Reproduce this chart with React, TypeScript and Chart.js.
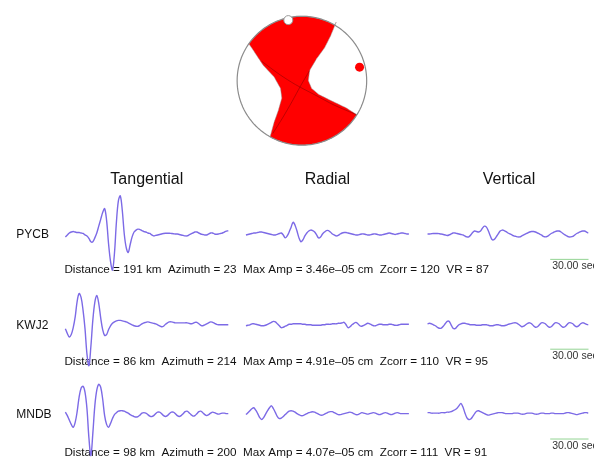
import React, { useEffect, useRef } from "react";
import { Chart, registerables } from "chart.js";
Chart.register(...registerables);

// ---------- data ----------
const COMPONENTS = ["Tangential", "Radial", "Vertical"];
const STATIONS = ["PYCB", "KWJ2", "MNDB"];
const DISTANCE_KM = [191, 86, 98];
const AZIMUTH = [23, 214, 200];
const MAX_AMP = ["3.46e–05", "4.91e–05", "4.07e–05"];
const ZCORR = [120, 110, 111];
const VR = [87, 95, 91];
const SCALE_LABEL = "30.00 sec";

// waveform amplitudes (display units, positive up), uniformly sampled
const PYCB_T = [-3,-1,1,2,2.5,2,1.5,1.5,1,0.5,-1,-2,-4.5,-8,-8,-4,1,8,15,22,26,14,-10,-28,-37,-20,12,34,39,24,0,-14,-19,-11,-3,2,4,5,4.5,3.5,2.5,2,1,0.5,-1,-2,-1.5,-1,-0.5,0,0.5,0.7,0.7,0.7,0.5,0.3,0,0,-0.5,-1,-1.5,-2,-2,-1,0,1,2,2,1,0,-0.5,-1,-1,0,1,1,0,-0.3,0,0.5,1,2,3,3.3];
const PYCB_R = [-1,-0.5,0,0.5,1,1,1.5,2,2,1.5,1,0.5,0,-0.5,-1,-1,-0.5,0.5,1,-1,-4,-2,2,7,12,9,3,-4,-8,-6,-2,1,3,4,3.5,2,-1,-4,-3,0,2,3.5,3.5,2,0,-1,-2,-1.5,0,1,1.5,1.5,1,0.5,0,-0.5,-1,-1,-0.5,0,0,-0.5,-1,-1,-0.5,0,0,-0.5,-1,-1,-0.5,0,0.5,1,0.5,0,-0.5,0,0.5,1,1,0.5,0,0];
const PYCB_Z = [0,0,0.3,0.5,0.5,0.5,0.3,0,-0.5,-1,-1.5,-1,0,1,1,0.5,0,-0.5,-1,-2,-3,-3,-1,1.5,3,2.5,2,3,6,8,7,3,-2,-6,-5.5,-3,0,3,4,3.5,2.5,1,0,-1,-2,-2.5,-3,-3,-2,-1,0,1,2,2.5,2.5,2,1,0,-1,-2.5,-3,-2.5,-1,0.5,1.5,2.5,3,3,2,0.5,-1,-2,-3,-3,-2.5,-1,0.5,1.5,2.5,3,3,2,1,0];
const KWJ2_T = [-4,-9,-12.5,-10,-3,8,24,32,28,15,-4,-30,-42,-22,5,23,30,22,7,-5,-11,-10,-5,-1,1.5,3,4,4.5,4.5,4,3.5,3,2,1,0,-1,-1.5,-1.5,-0.5,1,2,2.5,3,2.5,2,1.5,1,0,-1,-2,-1.5,0.5,2,3,3,2.5,2,2,2,2,2,2,2,1.5,1,1.5,2.5,2.5,1,-0.5,-1,0,1,2,3,2.5,1.5,0.5,0,0,0,0,0,0];
const KWJ2_R = [-1,-0.5,0,1,1,0.5,0,-0.5,-1,-1,-0.5,0.5,1.5,2.5,3.5,3,1,-1,-3,-2.5,-1.5,-0.5,0.5,0.5,1,1,1,1,1,0.5,0.5,0,0,0,-0.5,-0.5,-0.5,-0.5,-0.5,0,0,0.5,0.5,0.5,1,1,1,1.5,1.5,2,2.5,0,-3,-2,0,1.5,2.5,1,-1,-1.5,-0.5,0.5,1.5,1,0,-1,-1,0,0.5,0.5,0,0,0,0.5,0.5,0,-0.5,-0.5,0,0.5,0.5,0.5,0.5,0.5];
const KWJ2_Z = [1,1.5,1,0,-1,-2.5,-3.5,-3.5,-1.5,1,3.5,3.5,0,-3.5,-4,-2,0,1,1.5,1.5,1,0.5,0,0,0,-0.5,-0.5,-0.5,0,0,0,-0.5,-1,-1,-0.5,0,0,-0.5,-1,-1,-0.5,0.5,1,1.5,2,2,1,-0.5,-2,-1.5,0,1.5,2,1,-1,-2.5,-2,0,2,2,1,-1,-2.5,-2,0,2,2,1,-1,-2.5,-2,0,2,2,1,-1,-2,-1,1,2,1.5,0.5,0,0];
const MNDB_T = [1.5,-2,-6.5,-11,-14,-9,2,17,26,28,22,5,-25,-43,-20,8,24,30,27,15,-2,-11,-14,-10,-5,-1,1,2.5,3,3,2.5,1.5,0.5,-1,-2,-3,-3.5,-3,-1.5,0.5,1,0.5,-1,-2.5,-3,-2,0,1.5,1.5,0,-2,-3,-2,0,1.5,1.5,0,-2,-3,-2,0,2,2.5,1,-1,-2.5,-2,0,2,2.5,1,-1,-2,-1,0.5,1.5,1,0,-0.5,0,0.5,0.5,0,0];
const MNDB_R = [-1,1,3,5,6,3.5,0,-4,-6,-4,-0.5,3,6,8,5,1,-3,-5,-4.5,-3,-1,1,2.5,3,2.5,1.5,0,-1,-2,-2,-1,0,1,1.5,2,1.5,0.5,-0.5,-1.5,-1.5,-0.5,0.5,1.5,2,2,1,0,-1,-1,-0.5,0,0.5,1,1.5,1,0,-1,-1,0,1,0.5,0,-0.5,0,0.5,1,0.5,-0.5,-1,-0.5,0.5,1,0.5,-0.5,-1,-0.5,0.5,1,0.5,0,0,0,0,0];
const MNDB_Z = [1,1,0.5,0.5,0.5,0.5,0.5,1,1,1,1.5,1.5,2,3,4,5.5,8,10.5,7,1,-4,-6,-5.5,-3,0,2.5,3,2,1,0,-1,-1.5,-1,-0.5,0,0.5,1,1,1,0.5,0,0,0,0,0.5,0.5,0.5,0,-0.5,-0.5,0,0.5,0.5,0.5,0,-0.5,-0.5,0,0.5,0.5,0,0,0,0.5,0.5,0,0,0,0,0,0.5,1,1,0.5,0,-0.5,-1,-0.5,0,0.5,1,1,0.5,0];

const TRACES = [
  [PYCB_T, PYCB_R, PYCB_Z],
  [KWJ2_T, KWJ2_R, KWJ2_Z],
  [MNDB_T, MNDB_R, MNDB_Z],
];

// focal mechanism (unit-circle coordinates, y up)
const BALL_RIGHT_CURVE = [[0.53,0.91],[0.45,0.71],[0.35,0.51],[0.22,0.33],[0.12,0.16],[0.1,0.0],[0.15,-0.12],[0.27,-0.22],[0.47,-0.32],[0.68,-0.42],[0.85,-0.53]];
const BALL_LEFT_CURVE = [[-0.485,-0.85],[-0.43,-0.65],[-0.36,-0.45],[-0.31,-0.27],[-0.33,-0.12],[-0.43,0.06],[-0.59,0.23],[-0.71,0.41],[-0.81,0.56]];
const NODAL_1 = [[-0.62,0.3],[-0.35,0.1],[-0.1,-0.06],[0.2,-0.22],[0.5,-0.38],[0.85,-0.53]];
const NODAL_2 = [[0.12,0.16],[-0.02,-0.08],[-0.15,-0.32],[-0.3,-0.58],[-0.45,-0.82]];
const WHITE_DOT = [[-0.21, 0.94]];
const RED_DOT = [[0.89, 0.21]];

// ---------- layout ----------
const W = 594, H = 466;
const BALL_CX = 302, BALL_CY = 77, BALL_R = 66;
const COL_X = [61, 245, 430];
const ROW_Y = [234, 327, 418];
const SAMPLE_PX = 2;
const AMP_PX = 1;
const TITLE_Y = 178;
const LABEL_X = 11;
const LABEL_Y = [235, 328, 419];
const INFO_X = 60;
const INFO_Y = [271, 365, 458];
const SCALE_X = 555;
const SCALE_LEN = 42;
const SCALE_Y = [267, 359, 451];
const FONT = '"Liberation Sans", Arial, Helvetica, sans-serif';
const TRACE_COLOR = "rgb(124,106,230)";
const TINY_TENSION = 0.0001; // avoids Chart.js fast-path (needs x-sorted data)

const toBall = (p: number[]) => ({ x: BALL_CX + p[0] * BALL_R, y: BALL_CY - p[1] * BALL_R });
const arc = (a0: number, a1: number, n: number) => {
  const out: number[][] = [];
  for (let i = 0; i <= n; i++) {
    const a = a0 + ((a1 - a0) * i) / n;
    out.push([Math.cos(a), Math.sin(a)]);
  }
  return out;
};
const ang = (p: number[]) => Math.atan2(p[1], p[0]);

export default function App() {
  const ref = useRef<HTMLCanvasElement | null>(null);
  useEffect(() => {
    if (!ref.current) return;
    const A = BALL_LEFT_CURVE[BALL_LEFT_CURVE.length - 1];
    const B = BALL_RIGHT_CURVE[0];
    const C = BALL_RIGHT_CURVE[BALL_RIGHT_CURVE.length - 1];
    const D = BALL_LEFT_CURVE[0];
    const redPoly = [
      ...arc(ang(A), ang(B), 30),
      ...BALL_RIGHT_CURVE,
      ...arc(ang(C), ang(D), 30),
      ...BALL_LEFT_CURVE,
    ].map(toBall);
    const circle = arc(0, Math.PI * 2, 120).map(toBall);

    const datasets: any[] = [];
    datasets.push({ data: redPoly, fill: "shape", backgroundColor: "#ff0000", borderColor: "rgba(150,150,150,0.6)", borderWidth: 0.8, pointRadius: 0, tension: TINY_TENSION, order: 10 });
    datasets.push({ data: NODAL_1.map(toBall), borderColor: "rgba(130,0,0,0.5)", borderWidth: 1, pointRadius: 0, tension: 0.3, fill: false, order: 9 });
    datasets.push({ data: NODAL_2.map(toBall), borderColor: "rgba(130,0,0,0.5)", borderWidth: 1, pointRadius: 0, tension: 0.3, fill: false, order: 9 });
    datasets.push({ data: circle, borderColor: "#8c8c8c", borderWidth: 1.2, pointRadius: 0, tension: TINY_TENSION, fill: false, order: 8 });
    datasets.push({ data: WHITE_DOT.map(toBall), showLine: false, pointRadius: 4.5, pointBackgroundColor: "#ffffff", pointBorderColor: "#999", pointBorderWidth: 1, order: 7 });
    datasets.push({ data: RED_DOT.map(toBall), showLine: false, pointRadius: 4.5, pointBackgroundColor: "#ff0000", pointBorderColor: "#ff0000", pointBorderWidth: 0, order: 7 });

    SCALE_Y.forEach((sy) => {
      datasets.push({ data: [{ x: SCALE_X, y: sy - 7 }, { x: SCALE_X + SCALE_LEN, y: sy - 7 }], borderColor: "rgba(120,200,120,0.8)", borderWidth: 1, pointRadius: 0, fill: false, order: 5 });
    });

    TRACES.forEach((row, r) =>
      row.forEach((amps, c) => {
        datasets.push({
          data: amps.map((a, i) => ({ x: COL_X[c] + i * SAMPLE_PX, y: ROW_Y[r] - a * AMP_PX })),
          borderColor: TRACE_COLOR,
          borderWidth: 1.4,
          pointRadius: 0,
          tension: 0.35,
          fill: false,
          order: 1,
        });
      })
    );

    const textPlugin = {
      id: "texts",
      beforeDatasetsDraw(chart: any) {
        const ctx = chart.ctx;
        const xs = chart.scales.x, ys = chart.scales.y;
        const px = (v: number) => xs.getPixelForValue(v);
        const py = (v: number) => ys.getPixelForValue(v);
        ctx.save();
        ctx.fillStyle = "#111";
        ctx.textBaseline = "middle";
        ctx.textAlign = "center";
        ctx.font = `16px ${FONT}`;
        COMPONENTS.forEach((c, i) => {
          const cx = COL_X[i] + ((TRACES[0][i].length - 1) * SAMPLE_PX) / 2;
          ctx.fillText(c, px(cx), py(TITLE_Y));
        });
        ctx.textAlign = "left";
        ctx.font = `12px ${FONT}`;
        STATIONS.forEach((s, i) => ctx.fillText(s, px(LABEL_X), py(LABEL_Y[i])));
        ctx.font = `11.7px ${FONT}`;
        STATIONS.forEach((_, i) => {
          const t = `Distance = ${DISTANCE_KM[i]} km  Azimuth = ${AZIMUTH[i]}  Max Amp = ${MAX_AMP[i]} cm  Zcorr = ${ZCORR[i]}  VR = ${VR[i]}`;
          ctx.fillText(t, px(INFO_X), py(INFO_Y[i]));
        });
        ctx.font = `10.5px ${FONT}`;
        ctx.fillStyle = "#333";
        SCALE_Y.forEach((sy) => ctx.fillText(SCALE_LABEL, px(SCALE_X + 2), py(sy)));
        ctx.restore();
      },
    };

    const chart = new Chart(ref.current, {
      type: "line",
      data: { datasets },
      options: {
        responsive: false,
        animation: false,
        devicePixelRatio: 1,
        events: [],
        layout: { padding: 0 },
        plugins: { legend: { display: false }, tooltip: { enabled: false }, title: { display: false } },
        scales: {
          x: { type: "linear", min: 0, max: W, display: false },
          y: { type: "linear", min: 0, max: H, reverse: true, display: false },
        },
      },
      plugins: [textPlugin],
    } as any);
    return () => chart.destroy();
  }, []);

  return (
    <div style={{ position: "absolute", left: 0, top: 0, width: W, height: H, background: "#fff" }}>
      <canvas ref={ref} width={W} height={H} style={{ display: "block" }} />
    </div>
  );
}
